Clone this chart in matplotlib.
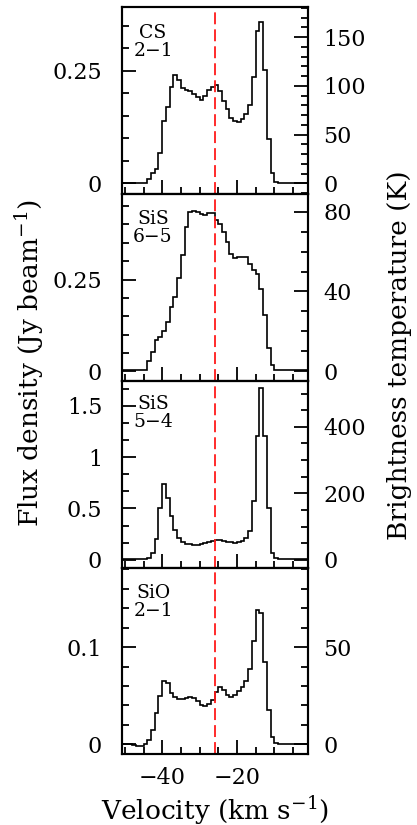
import numpy as np
import matplotlib
matplotlib.use("Agg")
import matplotlib.pyplot as plt
from matplotlib.ticker import MultipleLocator, FormatStrFormatter

plt.rcParams['font.family'] = ['DejaVu Serif']
plt.rcParams['mathtext.fontset'] = 'dejavuserif'

# channel edges (km/s), 1 km/s channels
edges = np.arange(-51.0, -0.5, 1.0)

# flux density per channel (Jy/beam)
cs21 = [0, 0, 0, 0, 0, 0, 0.001, 0.01, 0.023, 0.032,
        0.067, 0.138, 0.17, 0.214, 0.241, 0.23, 0.212, 0.208, 0.205, 0.199,
        0.192, 0.185, 0.194, 0.207, 0.214, 0.218, 0.205, 0.182, 0.164, 0.146,
        0.138, 0.136, 0.142, 0.153, 0.173, 0.236, 0.337, 0.359, 0.252, 0.098,
        0.024, 0.004, 0.001, 0, 0, 0, 0, 0, 0, 0]
sis65 = [0.003, 0.003, 0.003, 0.003, 0.003, 0.003, 0.003, 0.027, 0.053, 0.084,
         0.093, 0.109, 0.134, 0.175, 0.202, 0.254, 0.317, 0.392, 0.435, 0.437,
         0.435, 0.428, 0.426, 0.431, 0.431, 0.413, 0.401, 0.379, 0.351, 0.320,
         0.309, 0.312, 0.312, 0.311, 0.293, 0.276, 0.265, 0.225, 0.152, 0.062,
         0.018, 0.003, 0.003, 0.003, 0.003, 0.003, 0.003, 0.003, 0.003, 0.003]
sis54 = [0.01, 0.01, 0.01, 0.01, 0.01, 0.01, 0.01, 0.016, 0.065, 0.203,
         0.507, 0.742, 0.605, 0.425, 0.294, 0.212, 0.173, 0.157, 0.150, 0.144,
         0.144, 0.150, 0.163, 0.176, 0.186, 0.193, 0.190, 0.183, 0.176, 0.170,
         0.167, 0.170, 0.183, 0.212, 0.278, 0.572, 1.203, 1.673, 1.203, 0.50,
         0.07, 0.015, 0.01, 0.01, 0.01, 0.01, 0.01, 0.01, 0.01, 0.01]
sio21 = [0, 0, 0, -0.001, -0.0014, -0.0014, 0.0003, 0.004, 0.015, 0.032,
         0.050, 0.065, 0.063, 0.053, 0.049, 0.047, 0.047, 0.048, 0.049, 0.048,
         0.045, 0.040, 0.039, 0.042, 0.046, 0.054, 0.059, 0.056, 0.051, 0.049,
         0.051, 0.055, 0.059, 0.065, 0.078, 0.106, 0.138, 0.135, 0.085, 0.035,
         0.007, 0.001, 0, 0, 0, 0, 0, 0, 0, 0]

names = ["CS\n2\u22121", "SiS\n6\u22125", "SiS\n5\u22124", "SiO\n2\u22121"]
spectra = [cs21, sis65, sis54, sio21]
jy_to_k = [462, 184, 309, 500]     # K per Jy/beam
v_sys = -26.0

ylims = [(-0.0236, 0.3907), (-0.026, 0.483), (-0.075, 1.742), (-0.0103, 0.182)]
left_major = [0.25, 0.25, 0.5, 0.1]
left_minor = [0.05, 0.05, 0.5 / 3, 0.02]
right_major = [50, 40, 200, 50]
right_minor = [10, 10, 50, 10]
label_y = [0.91, 0.915, 0.925, 0.91]

fig, axes = plt.subplots(4, 1, sharex=True, figsize=(4.17, 8.25), dpi=100,
                         gridspec_kw=dict(hspace=0))
fig.subplots_adjust(left=0.2918, right=0.7393, top=0.9912, bottom=0.0857)

for i, ax in enumerate(axes):
    ax.stairs(spectra[i], edges, color='k', lw=1.2)
    ax.axvline(v_sys, color='#ff1a1a', lw=1.3, ls=(0, (6.6, 2.8)))
    ax.set_xlim(-50.85, -0.9)
    ax.set_ylim(*ylims[i])
    ax.yaxis.set_major_locator(MultipleLocator(left_major[i]))
    ax.yaxis.set_minor_locator(MultipleLocator(left_minor[i]))
    ax.yaxis.set_major_formatter(FormatStrFormatter('%g'))
    ax.xaxis.set_major_locator(MultipleLocator(20))
    ax.xaxis.set_minor_locator(MultipleLocator(5))
    ax.tick_params(which='both', direction='in', top=False, right=False,
                   width=1.3, labelsize=16)
    ax.tick_params(which='major', length=10)
    ax.tick_params(which='minor', length=5)
    ax.tick_params(axis='y', pad=14)
    ax.tick_params(axis='x', pad=9)
    for s in ax.spines.values():
        s.set_linewidth(1.5)

    tx = ax.twinx()
    tx.set_ylim(ylims[i][0] * jy_to_k[i], ylims[i][1] * jy_to_k[i])
    tx.yaxis.set_major_locator(MultipleLocator(right_major[i]))
    tx.yaxis.set_minor_locator(MultipleLocator(right_minor[i]))
    tx.yaxis.set_major_formatter(FormatStrFormatter('%g'))
    tx.tick_params(which='both', direction='in', width=1.3, labelsize=16, pad=11)
    tx.tick_params(which='major', length=10)
    tx.tick_params(which='minor', length=5)
    for s in tx.spines.values():
        s.set_linewidth(1.5)

    ax.text(0.168, label_y[i], names[i], transform=ax.transAxes, ha='center',
            va='top', fontsize=13.5, linespacing=1.0)

fig.text(0.072, 0.56, "Flux density (Jy beam$^{-1}$)", rotation=90,
         ha='center', va='center', fontsize=19)
fig.text(0.958, 0.57, "Brightness temperature (K)", rotation=90,
         ha='center', va='center', fontsize=19)
fig.text(0.515, 0.018, "Velocity (km s$^{-1}$)", ha='center', va='center',
         fontsize=19)

fig.savefig("out.png", dpi=100)
